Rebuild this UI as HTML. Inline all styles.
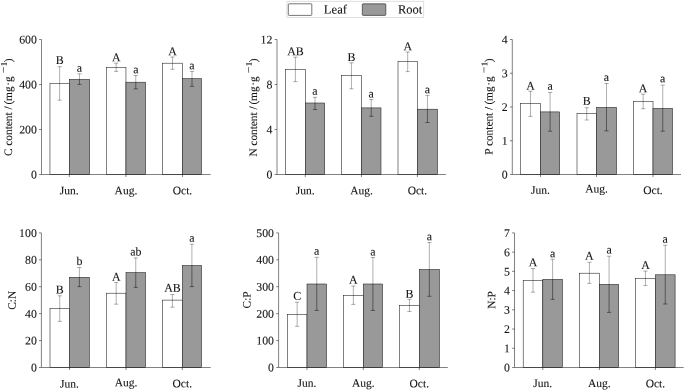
<!DOCTYPE html>
<html><head><meta charset="utf-8"><title>Chart</title>
<style>html,body{margin:0;padding:0;background:#fff;}body{width:685px;height:391px;overflow:hidden;font-family:"Liberation Serif",serif;}svg text{stroke:#151515;stroke-width:0.1px}svg{display:block;text-rendering:geometricPrecision;filter:grayscale(1)}</style>
</head><body>
<svg width="685" height="391" viewBox="0 0 685 391" font-family="'Liberation Serif', serif" font-size="11.3" fill="#151515">
<rect width="685" height="391" fill="#fff"/>
<rect x="286.9" y="1.3" width="136.8" height="16.1" fill="#fff" stroke="#d8d8d8" stroke-width="0.8"/>
<rect x="288.3" y="3.8" width="23.5" height="11.6" rx="0.8" fill="#fff" stroke="#1a1a1a" stroke-width="0.6"/>
<rect x="362.3" y="3.8" width="23.5" height="11.6" rx="0.8" fill="#999" stroke="#1a1a1a" stroke-width="0.6"/>
<text transform="translate(323.85 13.45) rotate(0.03)" font-size="12.7">Leaf</text>
<text transform="translate(397.9 13.45) rotate(0.03)" font-size="12.5">Root</text>
<rect x="49.96" y="83.50" width="19.34" height="91.00" fill="#fff" stroke="#1a1a1a" stroke-width="0.55"/>
<rect x="69.30" y="79.40" width="20.30" height="95.10" fill="#999" stroke="#1a1a1a" stroke-width="0.55"/>
<rect x="106.40" y="67.30" width="19.55" height="107.20" fill="#fff" stroke="#1a1a1a" stroke-width="0.55"/>
<rect x="125.95" y="82.20" width="19.65" height="92.30" fill="#999" stroke="#1a1a1a" stroke-width="0.55"/>
<rect x="162.50" y="63.20" width="20.00" height="111.30" fill="#fff" stroke="#1a1a1a" stroke-width="0.55"/>
<rect x="182.50" y="78.70" width="19.00" height="95.80" fill="#999" stroke="#1a1a1a" stroke-width="0.55"/>
<path d="M59.63 66.70V100.20M57.53 66.70h4.2M57.53 100.20h4.2" stroke="#000" stroke-width="0.32" fill="none"/>
<text x="59.63" y="64.10" transform="rotate(0.03 59.63 64.10)" text-anchor="middle" font-size="11.9">B</text>
<path d="M79.45 73.80V79.40M77.35 73.80h4.2" stroke="#000" stroke-width="0.32" fill="none"/>
<path d="M79.45 79.40V84.40M77.35 84.40h4.2" stroke="#000" stroke-width="0.45" fill="none"/>
<text x="79.45" y="71.80" transform="rotate(0.03 79.45 71.80)" text-anchor="middle" font-size="11.9">a</text>
<path d="M116.18 63.20V71.40M114.08 63.20h4.2M114.08 71.40h4.2" stroke="#000" stroke-width="0.32" fill="none"/>
<text x="116.18" y="61.30" transform="rotate(0.03 116.18 61.30)" text-anchor="middle" font-size="11.9">A</text>
<path d="M135.78 75.50V82.20M133.68 75.50h4.2" stroke="#000" stroke-width="0.32" fill="none"/>
<path d="M135.78 82.20V88.80M133.68 88.80h4.2" stroke="#000" stroke-width="0.45" fill="none"/>
<text x="135.78" y="73.30" transform="rotate(0.03 135.78 73.30)" text-anchor="middle" font-size="11.9">a</text>
<path d="M172.50 57.00V69.30M170.40 57.00h4.2M170.40 69.30h4.2" stroke="#000" stroke-width="0.32" fill="none"/>
<text x="172.50" y="55.30" transform="rotate(0.03 172.50 55.30)" text-anchor="middle" font-size="11.9">A</text>
<path d="M192.00 71.40V78.70M189.90 71.40h4.2" stroke="#000" stroke-width="0.32" fill="none"/>
<path d="M192.00 78.70V86.30M189.90 86.30h4.2" stroke="#000" stroke-width="0.45" fill="none"/>
<text x="192.00" y="69.20" transform="rotate(0.03 192.00 69.20)" text-anchor="middle" font-size="11.9">a</text>
<path d="M41.5 39.5V174.5H210.70" stroke="#1a1a1a" stroke-width="0.55" fill="none"/>
<path d="M39.10 174.50H41.5" stroke="#1a1a1a" stroke-width="0.55"/>
<text x="36.90" y="178.55" transform="rotate(0.03 36.90 178.55)" text-anchor="end" font-size="11.8">0</text>
<path d="M39.10 129.50H41.5" stroke="#1a1a1a" stroke-width="0.55"/>
<text x="36.90" y="133.55" transform="rotate(0.03 36.90 133.55)" text-anchor="end" font-size="11.8">200</text>
<path d="M39.10 84.50H41.5" stroke="#1a1a1a" stroke-width="0.55"/>
<text x="36.90" y="88.55" transform="rotate(0.03 36.90 88.55)" text-anchor="end" font-size="11.8">400</text>
<path d="M39.10 39.50H41.5" stroke="#1a1a1a" stroke-width="0.55"/>
<text x="36.90" y="43.55" transform="rotate(0.03 36.90 43.55)" text-anchor="end" font-size="11.8">600</text>
<path d="M69.30 174.5v2.5" stroke="#1a1a1a" stroke-width="0.55"/>
<text x="69.30" y="194.30" transform="rotate(0.03 69.30 194.30)" text-anchor="middle" font-size="11.5">Jun.</text>
<path d="M125.95 174.5v2.5" stroke="#1a1a1a" stroke-width="0.55"/>
<text x="125.95" y="194.30" transform="rotate(0.03 125.95 194.30)" text-anchor="middle" font-size="11.5">Aug.</text>
<path d="M182.50 174.5v2.5" stroke="#1a1a1a" stroke-width="0.55"/>
<text x="182.50" y="194.30" transform="rotate(0.03 182.50 194.30)" text-anchor="middle" font-size="11.5">Oct.</text>
<g transform="translate(11.9 156.00) rotate(-89.97)">
<text x="0" y="0">C content / </text>
<text x="51.60" y="0">(</text>
<text x="54.90" y="0">m</text>
<text x="63.90" y="0">g</text>
<text x="70.20" y="0">·</text>
<text x="73.90" y="0">g</text>
<text x="93.70" y="0">)</text>
<path d="M83.30 -8.5H88.90" stroke="#151515" stroke-width="0.6"/>
<text x="89.75" y="-5.2" font-size="8.6">1</text>
</g>
<rect x="285.50" y="69.30" width="19.80" height="105.20" fill="#fff" stroke="#1a1a1a" stroke-width="0.55"/>
<rect x="305.30" y="103.00" width="19.40" height="71.50" fill="#999" stroke="#1a1a1a" stroke-width="0.55"/>
<rect x="341.40" y="75.50" width="20.10" height="99.00" fill="#fff" stroke="#1a1a1a" stroke-width="0.55"/>
<rect x="361.50" y="107.90" width="19.50" height="66.60" fill="#999" stroke="#1a1a1a" stroke-width="0.55"/>
<rect x="398.00" y="61.70" width="19.40" height="112.80" fill="#fff" stroke="#1a1a1a" stroke-width="0.55"/>
<rect x="417.40" y="109.20" width="20.10" height="65.30" fill="#999" stroke="#1a1a1a" stroke-width="0.55"/>
<path d="M295.40 57.20V81.60M293.30 57.20h4.2M293.30 81.60h4.2" stroke="#000" stroke-width="0.32" fill="none"/>
<text x="295.40" y="55.30" transform="rotate(0.03 295.40 55.30)" text-anchor="middle" font-size="11.9">AB</text>
<path d="M315.00 97.30V103.00M312.90 97.30h4.2" stroke="#000" stroke-width="0.32" fill="none"/>
<path d="M315.00 103.00V109.50M312.90 109.50h4.2" stroke="#000" stroke-width="0.45" fill="none"/>
<text x="315.00" y="94.70" transform="rotate(0.03 315.00 94.70)" text-anchor="middle" font-size="11.9">a</text>
<path d="M351.45 62.80V88.80M349.35 62.80h4.2M349.35 88.80h4.2" stroke="#000" stroke-width="0.32" fill="none"/>
<text x="351.45" y="61.00" transform="rotate(0.03 351.45 61.00)" text-anchor="middle" font-size="11.9">B</text>
<path d="M371.25 99.50V107.90M369.15 99.50h4.2" stroke="#000" stroke-width="0.32" fill="none"/>
<path d="M371.25 107.90V116.30M369.15 116.30h4.2" stroke="#000" stroke-width="0.45" fill="none"/>
<text x="371.25" y="97.50" transform="rotate(0.03 371.25 97.50)" text-anchor="middle" font-size="11.9">a</text>
<path d="M407.70 52.10V71.60M405.60 52.10h4.2M405.60 71.60h4.2" stroke="#000" stroke-width="0.32" fill="none"/>
<text x="407.70" y="50.30" transform="rotate(0.03 407.70 50.30)" text-anchor="middle" font-size="11.9">A</text>
<path d="M427.45 95.40V109.20M425.35 95.40h4.2" stroke="#000" stroke-width="0.32" fill="none"/>
<path d="M427.45 109.20V122.50M425.35 122.50h4.2" stroke="#000" stroke-width="0.45" fill="none"/>
<text x="427.45" y="93.20" transform="rotate(0.03 427.45 93.20)" text-anchor="middle" font-size="11.9">a</text>
<path d="M277.0 39.5V174.5H445.90" stroke="#1a1a1a" stroke-width="0.55" fill="none"/>
<path d="M274.60 174.50H277.0" stroke="#1a1a1a" stroke-width="0.55"/>
<text x="272.40" y="178.55" transform="rotate(0.03 272.40 178.55)" text-anchor="end" font-size="11.8">0</text>
<path d="M274.60 129.50H277.0" stroke="#1a1a1a" stroke-width="0.55"/>
<text x="272.40" y="133.55" transform="rotate(0.03 272.40 133.55)" text-anchor="end" font-size="11.8">4</text>
<path d="M274.60 84.50H277.0" stroke="#1a1a1a" stroke-width="0.55"/>
<text x="272.40" y="88.55" transform="rotate(0.03 272.40 88.55)" text-anchor="end" font-size="11.8">8</text>
<path d="M274.60 39.50H277.0" stroke="#1a1a1a" stroke-width="0.55"/>
<text x="272.40" y="43.55" transform="rotate(0.03 272.40 43.55)" text-anchor="end" font-size="11.8">12</text>
<path d="M305.30 174.5v2.5" stroke="#1a1a1a" stroke-width="0.55"/>
<text x="305.30" y="194.30" transform="rotate(0.03 305.30 194.30)" text-anchor="middle" font-size="11.5">Jun.</text>
<path d="M361.50 174.5v2.5" stroke="#1a1a1a" stroke-width="0.55"/>
<text x="361.50" y="194.30" transform="rotate(0.03 361.50 194.30)" text-anchor="middle" font-size="11.5">Aug.</text>
<path d="M417.40 174.5v2.5" stroke="#1a1a1a" stroke-width="0.55"/>
<text x="417.40" y="194.30" transform="rotate(0.03 417.40 194.30)" text-anchor="middle" font-size="11.5">Oct.</text>
<g transform="translate(257.0 156.62) rotate(-89.97)">
<text x="0" y="0">N content / </text>
<text x="52.22" y="0">(</text>
<text x="55.52" y="0">m</text>
<text x="64.52" y="0">g</text>
<text x="70.82" y="0">·</text>
<text x="74.52" y="0">g</text>
<text x="94.32" y="0">)</text>
<path d="M83.92 -8.5H89.52" stroke="#151515" stroke-width="0.6"/>
<text x="90.37" y="-5.2" font-size="8.6">1</text>
</g>
<rect x="520.40" y="103.50" width="20.10" height="71.00" fill="#fff" stroke="#1a1a1a" stroke-width="0.55"/>
<rect x="540.50" y="111.90" width="19.20" height="62.60" fill="#999" stroke="#1a1a1a" stroke-width="0.55"/>
<rect x="577.00" y="113.50" width="19.50" height="61.00" fill="#fff" stroke="#1a1a1a" stroke-width="0.55"/>
<rect x="596.50" y="107.40" width="20.00" height="67.10" fill="#999" stroke="#1a1a1a" stroke-width="0.55"/>
<rect x="633.30" y="101.30" width="19.70" height="73.20" fill="#fff" stroke="#1a1a1a" stroke-width="0.55"/>
<rect x="653.00" y="108.40" width="19.50" height="66.10" fill="#999" stroke="#1a1a1a" stroke-width="0.55"/>
<path d="M530.45 91.20V116.40M528.35 91.20h4.2M528.35 116.40h4.2" stroke="#000" stroke-width="0.32" fill="none"/>
<text x="530.45" y="89.70" transform="rotate(0.03 530.45 89.70)" text-anchor="middle" font-size="11.9">A</text>
<path d="M550.10 92.50V111.90M548.00 92.50h4.2" stroke="#000" stroke-width="0.32" fill="none"/>
<path d="M550.10 111.90V131.20M548.00 131.20h4.2" stroke="#000" stroke-width="0.45" fill="none"/>
<text x="550.10" y="89.70" transform="rotate(0.03 550.10 89.70)" text-anchor="middle" font-size="11.9">a</text>
<path d="M586.75 107.70V120.00M584.65 107.70h4.2M584.65 120.00h4.2" stroke="#000" stroke-width="0.32" fill="none"/>
<text x="586.75" y="104.80" transform="rotate(0.03 586.75 104.80)" text-anchor="middle" font-size="11.9">B</text>
<path d="M606.50 83.50V107.40M604.40 83.50h4.2" stroke="#000" stroke-width="0.32" fill="none"/>
<path d="M606.50 107.40V130.90M604.40 130.90h4.2" stroke="#000" stroke-width="0.45" fill="none"/>
<text x="606.50" y="81.10" transform="rotate(0.03 606.50 81.10)" text-anchor="middle" font-size="11.9">a</text>
<path d="M643.15 94.20V108.70M641.05 94.20h4.2M641.05 108.70h4.2" stroke="#000" stroke-width="0.32" fill="none"/>
<text x="643.15" y="92.20" transform="rotate(0.03 643.15 92.20)" text-anchor="middle" font-size="11.9">A</text>
<path d="M662.75 85.10V108.40M660.65 85.10h4.2" stroke="#000" stroke-width="0.32" fill="none"/>
<path d="M662.75 108.40V131.20M660.65 131.20h4.2" stroke="#000" stroke-width="0.45" fill="none"/>
<text x="662.75" y="82.20" transform="rotate(0.03 662.75 82.20)" text-anchor="middle" font-size="11.9">a</text>
<path d="M512.3 39.5V174.5H681.00" stroke="#1a1a1a" stroke-width="0.55" fill="none"/>
<path d="M509.90 174.50H512.3" stroke="#1a1a1a" stroke-width="0.55"/>
<text x="507.70" y="178.55" transform="rotate(0.03 507.70 178.55)" text-anchor="end" font-size="11.8">0</text>
<path d="M509.90 140.75H512.3" stroke="#1a1a1a" stroke-width="0.55"/>
<text x="507.70" y="144.80" transform="rotate(0.03 507.70 144.80)" text-anchor="end" font-size="11.8">1</text>
<path d="M509.90 107.00H512.3" stroke="#1a1a1a" stroke-width="0.55"/>
<text x="507.70" y="111.05" transform="rotate(0.03 507.70 111.05)" text-anchor="end" font-size="11.8">2</text>
<path d="M509.90 73.25H512.3" stroke="#1a1a1a" stroke-width="0.55"/>
<text x="507.70" y="77.30" transform="rotate(0.03 507.70 77.30)" text-anchor="end" font-size="11.8">3</text>
<path d="M509.90 39.50H512.3" stroke="#1a1a1a" stroke-width="0.55"/>
<text x="507.70" y="43.55" transform="rotate(0.03 507.70 43.55)" text-anchor="end" font-size="11.8">4</text>
<path d="M540.50 174.5v2.5" stroke="#1a1a1a" stroke-width="0.55"/>
<text x="540.50" y="193.75" transform="rotate(0.03 540.50 193.75)" text-anchor="middle" font-size="11.5">Jun.</text>
<path d="M596.50 174.5v2.5" stroke="#1a1a1a" stroke-width="0.55"/>
<text x="596.50" y="192.50" transform="rotate(0.03 596.50 192.50)" text-anchor="middle" font-size="11.5">Aug.</text>
<path d="M653.00 174.5v2.5" stroke="#1a1a1a" stroke-width="0.55"/>
<text x="653.00" y="194.00" transform="rotate(0.03 653.00 194.00)" text-anchor="middle" font-size="11.5">Oct.</text>
<g transform="translate(492.4 154.75) rotate(-89.97)">
<text x="0" y="0">P content / </text>
<text x="50.35" y="0">(</text>
<text x="53.65" y="0">m</text>
<text x="62.65" y="0">g</text>
<text x="68.95" y="0">·</text>
<text x="72.65" y="0">g</text>
<text x="92.45" y="0">)</text>
<path d="M82.05 -8.5H87.65" stroke="#151515" stroke-width="0.6"/>
<text x="88.50" y="-5.2" font-size="8.6">1</text>
</g>
<rect x="50.00" y="308.60" width="19.50" height="58.90" fill="#fff" stroke="#1a1a1a" stroke-width="0.55"/>
<rect x="69.50" y="277.30" width="19.80" height="90.20" fill="#999" stroke="#1a1a1a" stroke-width="0.55"/>
<rect x="106.40" y="293.20" width="19.60" height="74.30" fill="#fff" stroke="#1a1a1a" stroke-width="0.55"/>
<rect x="126.00" y="272.60" width="19.50" height="94.90" fill="#999" stroke="#1a1a1a" stroke-width="0.55"/>
<rect x="162.50" y="300.10" width="19.80" height="67.40" fill="#fff" stroke="#1a1a1a" stroke-width="0.55"/>
<rect x="182.30" y="265.50" width="19.20" height="102.00" fill="#999" stroke="#1a1a1a" stroke-width="0.55"/>
<path d="M59.75 295.80V321.40M57.65 295.80h4.2M57.65 321.40h4.2" stroke="#000" stroke-width="0.32" fill="none"/>
<text x="59.75" y="293.40" transform="rotate(0.03 59.75 293.40)" text-anchor="middle" font-size="11.9">B</text>
<path d="M79.40 267.50V277.30M77.30 267.50h4.2" stroke="#000" stroke-width="0.32" fill="none"/>
<path d="M79.40 277.30V286.60M77.30 286.60h4.2" stroke="#000" stroke-width="0.45" fill="none"/>
<text x="79.40" y="264.90" transform="rotate(0.03 79.40 264.90)" text-anchor="middle" font-size="11.9">b</text>
<path d="M116.20 282.50V304.20M114.10 282.50h4.2M114.10 304.20h4.2" stroke="#000" stroke-width="0.32" fill="none"/>
<text x="116.20" y="280.70" transform="rotate(0.03 116.20 280.70)" text-anchor="middle" font-size="11.9">A</text>
<path d="M135.75 257.90V272.60M133.65 257.90h4.2" stroke="#000" stroke-width="0.32" fill="none"/>
<path d="M135.75 272.60V287.40M133.65 287.40h4.2" stroke="#000" stroke-width="0.45" fill="none"/>
<text x="135.75" y="255.50" transform="rotate(0.03 135.75 255.50)" text-anchor="middle" font-size="11.9">ab</text>
<path d="M172.40 294.50V307.20M170.30 294.50h4.2M170.30 307.20h4.2" stroke="#000" stroke-width="0.32" fill="none"/>
<text x="172.40" y="291.70" transform="rotate(0.03 172.40 291.70)" text-anchor="middle" font-size="11.9">AB</text>
<path d="M191.90 244.20V265.50M189.80 244.20h4.2" stroke="#000" stroke-width="0.32" fill="none"/>
<path d="M191.90 265.50V286.60M189.80 286.60h4.2" stroke="#000" stroke-width="0.45" fill="none"/>
<text x="191.90" y="241.80" transform="rotate(0.03 191.90 241.80)" text-anchor="middle" font-size="11.9">a</text>
<path d="M41.4 232.9V367.5H210.70" stroke="#1a1a1a" stroke-width="0.55" fill="none"/>
<path d="M39.00 367.50H41.4" stroke="#1a1a1a" stroke-width="0.55"/>
<text x="36.80" y="371.55" transform="rotate(0.03 36.80 371.55)" text-anchor="end" font-size="11.8">0</text>
<path d="M39.00 340.58H41.4" stroke="#1a1a1a" stroke-width="0.55"/>
<text x="36.80" y="344.63" transform="rotate(0.03 36.80 344.63)" text-anchor="end" font-size="11.8">20</text>
<path d="M39.00 313.66H41.4" stroke="#1a1a1a" stroke-width="0.55"/>
<text x="36.80" y="317.71" transform="rotate(0.03 36.80 317.71)" text-anchor="end" font-size="11.8">40</text>
<path d="M39.00 286.74H41.4" stroke="#1a1a1a" stroke-width="0.55"/>
<text x="36.80" y="290.79" transform="rotate(0.03 36.80 290.79)" text-anchor="end" font-size="11.8">60</text>
<path d="M39.00 259.82H41.4" stroke="#1a1a1a" stroke-width="0.55"/>
<text x="36.80" y="263.87" transform="rotate(0.03 36.80 263.87)" text-anchor="end" font-size="11.8">80</text>
<path d="M39.00 232.90H41.4" stroke="#1a1a1a" stroke-width="0.55"/>
<text x="36.80" y="236.95" transform="rotate(0.03 36.80 236.95)" text-anchor="end" font-size="11.8">100</text>
<path d="M69.50 367.5v2.5" stroke="#1a1a1a" stroke-width="0.55"/>
<text x="69.50" y="387.60" transform="rotate(0.03 69.50 387.60)" text-anchor="middle" font-size="11.5">Jun.</text>
<path d="M126.00 367.5v2.5" stroke="#1a1a1a" stroke-width="0.55"/>
<text x="126.00" y="386.30" transform="rotate(0.03 126.00 386.30)" text-anchor="middle" font-size="11.5">Aug.</text>
<path d="M182.30 367.5v2.5" stroke="#1a1a1a" stroke-width="0.55"/>
<text x="182.30" y="387.30" transform="rotate(0.03 182.30 387.30)" text-anchor="middle" font-size="11.5">Oct.</text>
<text transform="translate(15.8 309.7) rotate(-89.97)">C:N</text>
<rect x="287.30" y="314.40" width="19.70" height="53.10" fill="#fff" stroke="#1a1a1a" stroke-width="0.55"/>
<rect x="307.00" y="284.00" width="19.50" height="83.50" fill="#999" stroke="#1a1a1a" stroke-width="0.55"/>
<rect x="343.40" y="295.50" width="19.90" height="72.00" fill="#fff" stroke="#1a1a1a" stroke-width="0.55"/>
<rect x="363.30" y="284.00" width="19.20" height="83.50" fill="#999" stroke="#1a1a1a" stroke-width="0.55"/>
<rect x="399.60" y="305.60" width="19.70" height="61.90" fill="#fff" stroke="#1a1a1a" stroke-width="0.55"/>
<rect x="419.30" y="269.50" width="20.10" height="98.00" fill="#999" stroke="#1a1a1a" stroke-width="0.55"/>
<path d="M297.15 302.20V326.30M295.05 302.20h4.2M295.05 326.30h4.2" stroke="#000" stroke-width="0.32" fill="none"/>
<text x="297.15" y="299.80" transform="rotate(0.03 297.15 299.80)" text-anchor="middle" font-size="11.9">C</text>
<path d="M316.75 257.30V284.00M314.65 257.30h4.2" stroke="#000" stroke-width="0.32" fill="none"/>
<path d="M316.75 284.00V310.40M314.65 310.40h4.2" stroke="#000" stroke-width="0.45" fill="none"/>
<text x="316.75" y="254.70" transform="rotate(0.03 316.75 254.70)" text-anchor="middle" font-size="11.9">a</text>
<path d="M353.35 286.00V304.40M351.25 286.00h4.2M351.25 304.40h4.2" stroke="#000" stroke-width="0.32" fill="none"/>
<text x="353.35" y="283.80" transform="rotate(0.03 353.35 283.80)" text-anchor="middle" font-size="11.9">A</text>
<path d="M372.90 257.50V284.00M370.80 257.50h4.2" stroke="#000" stroke-width="0.32" fill="none"/>
<path d="M372.90 284.00V310.40M370.80 310.40h4.2" stroke="#000" stroke-width="0.45" fill="none"/>
<text x="372.90" y="255.50" transform="rotate(0.03 372.90 255.50)" text-anchor="middle" font-size="11.9">a</text>
<path d="M409.45 299.30V311.50M407.35 299.30h4.2M407.35 311.50h4.2" stroke="#000" stroke-width="0.32" fill="none"/>
<text x="409.45" y="297.70" transform="rotate(0.03 409.45 297.70)" text-anchor="middle" font-size="11.9">B</text>
<path d="M429.35 242.50V269.50M427.25 242.50h4.2" stroke="#000" stroke-width="0.32" fill="none"/>
<path d="M429.35 269.50V296.30M427.25 296.30h4.2" stroke="#000" stroke-width="0.45" fill="none"/>
<text x="429.35" y="240.30" transform="rotate(0.03 429.35 240.30)" text-anchor="middle" font-size="11.9">a</text>
<path d="M278.6 232.9V367.5H447.80" stroke="#1a1a1a" stroke-width="0.55" fill="none"/>
<path d="M276.20 367.50H278.6" stroke="#1a1a1a" stroke-width="0.55"/>
<text x="274.00" y="371.55" transform="rotate(0.03 274.00 371.55)" text-anchor="end" font-size="11.8">0</text>
<path d="M276.20 340.58H278.6" stroke="#1a1a1a" stroke-width="0.55"/>
<text x="274.00" y="344.63" transform="rotate(0.03 274.00 344.63)" text-anchor="end" font-size="11.8">100</text>
<path d="M276.20 313.66H278.6" stroke="#1a1a1a" stroke-width="0.55"/>
<text x="274.00" y="317.71" transform="rotate(0.03 274.00 317.71)" text-anchor="end" font-size="11.8">200</text>
<path d="M276.20 286.74H278.6" stroke="#1a1a1a" stroke-width="0.55"/>
<text x="274.00" y="290.79" transform="rotate(0.03 274.00 290.79)" text-anchor="end" font-size="11.8">300</text>
<path d="M276.20 259.82H278.6" stroke="#1a1a1a" stroke-width="0.55"/>
<text x="274.00" y="263.87" transform="rotate(0.03 274.00 263.87)" text-anchor="end" font-size="11.8">400</text>
<path d="M276.20 232.90H278.6" stroke="#1a1a1a" stroke-width="0.55"/>
<text x="274.00" y="236.95" transform="rotate(0.03 274.00 236.95)" text-anchor="end" font-size="11.8">500</text>
<path d="M307.00 367.5v2.5" stroke="#1a1a1a" stroke-width="0.55"/>
<text x="307.00" y="386.80" transform="rotate(0.03 307.00 386.80)" text-anchor="middle" font-size="11.5">Jun.</text>
<path d="M363.30 367.5v2.5" stroke="#1a1a1a" stroke-width="0.55"/>
<text x="363.30" y="386.80" transform="rotate(0.03 363.30 386.80)" text-anchor="middle" font-size="11.5">Aug.</text>
<path d="M419.30 367.5v2.5" stroke="#1a1a1a" stroke-width="0.55"/>
<text x="419.30" y="387.30" transform="rotate(0.03 419.30 387.30)" text-anchor="middle" font-size="11.5">Oct.</text>
<text transform="translate(250.6 308.4) rotate(-89.97)">C:P</text>
<rect x="523.20" y="280.40" width="19.60" height="87.10" fill="#fff" stroke="#1a1a1a" stroke-width="0.55"/>
<rect x="542.80" y="279.40" width="19.60" height="88.10" fill="#999" stroke="#1a1a1a" stroke-width="0.55"/>
<rect x="579.40" y="273.20" width="20.00" height="94.30" fill="#fff" stroke="#1a1a1a" stroke-width="0.55"/>
<rect x="599.40" y="284.40" width="19.30" height="83.10" fill="#999" stroke="#1a1a1a" stroke-width="0.55"/>
<rect x="635.50" y="278.30" width="19.90" height="89.20" fill="#fff" stroke="#1a1a1a" stroke-width="0.55"/>
<rect x="655.40" y="274.80" width="19.70" height="92.70" fill="#999" stroke="#1a1a1a" stroke-width="0.55"/>
<path d="M533.00 268.50V292.20M530.90 268.50h4.2M530.90 292.20h4.2" stroke="#000" stroke-width="0.32" fill="none"/>
<text x="533.00" y="266.30" transform="rotate(0.03 533.00 266.30)" text-anchor="middle" font-size="11.9">A</text>
<path d="M552.60 259.30V279.40M550.50 259.30h4.2" stroke="#000" stroke-width="0.32" fill="none"/>
<path d="M552.60 279.40V299.40M550.50 299.40h4.2" stroke="#000" stroke-width="0.45" fill="none"/>
<text x="552.60" y="257.20" transform="rotate(0.03 552.60 257.20)" text-anchor="middle" font-size="11.9">a</text>
<path d="M589.40 262.30V283.40M587.30 262.30h4.2M587.30 283.40h4.2" stroke="#000" stroke-width="0.32" fill="none"/>
<text x="589.40" y="259.80" transform="rotate(0.03 589.40 259.80)" text-anchor="middle" font-size="11.9">A</text>
<path d="M609.05 256.20V284.40M606.95 256.20h4.2" stroke="#000" stroke-width="0.32" fill="none"/>
<path d="M609.05 284.40V312.40M606.95 312.40h4.2" stroke="#000" stroke-width="0.45" fill="none"/>
<text x="609.05" y="253.60" transform="rotate(0.03 609.05 253.60)" text-anchor="middle" font-size="11.9">a</text>
<path d="M645.45 271.10V285.50M643.35 271.10h4.2M643.35 285.50h4.2" stroke="#000" stroke-width="0.32" fill="none"/>
<text x="645.45" y="269.00" transform="rotate(0.03 645.45 269.00)" text-anchor="middle" font-size="11.9">A</text>
<path d="M665.25 245.20V274.80M663.15 245.20h4.2" stroke="#000" stroke-width="0.32" fill="none"/>
<path d="M665.25 274.80V304.00M663.15 304.00h4.2" stroke="#000" stroke-width="0.45" fill="none"/>
<text x="665.25" y="242.80" transform="rotate(0.03 665.25 242.80)" text-anchor="middle" font-size="11.9">a</text>
<path d="M514.5 232.9V367.5H683.70" stroke="#1a1a1a" stroke-width="0.55" fill="none"/>
<path d="M512.10 367.50H514.5" stroke="#1a1a1a" stroke-width="0.55"/>
<text x="509.90" y="371.55" transform="rotate(0.03 509.90 371.55)" text-anchor="end" font-size="11.8">0</text>
<path d="M512.10 348.27H514.5" stroke="#1a1a1a" stroke-width="0.55"/>
<text x="509.90" y="352.32" transform="rotate(0.03 509.90 352.32)" text-anchor="end" font-size="11.8">1</text>
<path d="M512.10 329.04H514.5" stroke="#1a1a1a" stroke-width="0.55"/>
<text x="509.90" y="333.09" transform="rotate(0.03 509.90 333.09)" text-anchor="end" font-size="11.8">2</text>
<path d="M512.10 309.81H514.5" stroke="#1a1a1a" stroke-width="0.55"/>
<text x="509.90" y="313.86" transform="rotate(0.03 509.90 313.86)" text-anchor="end" font-size="11.8">3</text>
<path d="M512.10 290.59H514.5" stroke="#1a1a1a" stroke-width="0.55"/>
<text x="509.90" y="294.64" transform="rotate(0.03 509.90 294.64)" text-anchor="end" font-size="11.8">4</text>
<path d="M512.10 271.36H514.5" stroke="#1a1a1a" stroke-width="0.55"/>
<text x="509.90" y="275.41" transform="rotate(0.03 509.90 275.41)" text-anchor="end" font-size="11.8">5</text>
<path d="M512.10 252.13H514.5" stroke="#1a1a1a" stroke-width="0.55"/>
<text x="509.90" y="256.18" transform="rotate(0.03 509.90 256.18)" text-anchor="end" font-size="11.8">6</text>
<path d="M512.10 232.90H514.5" stroke="#1a1a1a" stroke-width="0.55"/>
<text x="509.90" y="236.95" transform="rotate(0.03 509.90 236.95)" text-anchor="end" font-size="11.8">7</text>
<path d="M542.80 367.5v2.5" stroke="#1a1a1a" stroke-width="0.55"/>
<text x="542.80" y="386.90" transform="rotate(0.03 542.80 386.90)" text-anchor="middle" font-size="11.5">Jun.</text>
<path d="M599.40 367.5v2.5" stroke="#1a1a1a" stroke-width="0.55"/>
<text x="599.40" y="386.90" transform="rotate(0.03 599.40 386.90)" text-anchor="middle" font-size="11.5">Aug.</text>
<path d="M655.40 367.5v2.5" stroke="#1a1a1a" stroke-width="0.55"/>
<text x="655.40" y="387.30" transform="rotate(0.03 655.40 387.30)" text-anchor="middle" font-size="11.5">Oct.</text>
<text transform="translate(495.3 308.7) rotate(-89.97)">N:P</text>
</svg>
</body></html>
